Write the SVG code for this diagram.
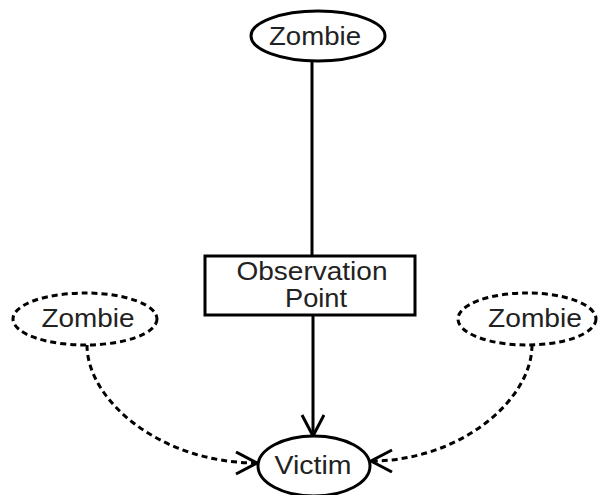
<svg xmlns="http://www.w3.org/2000/svg" width="598" height="495" viewBox="0 0 598 495">
<style>
.n{fill:#fff;stroke:#000;stroke-width:3}
.d{stroke-dasharray:6 4}
.t{font-family:"Liberation Sans",Arial,sans-serif;font-size:25px;fill:#222;text-anchor:middle}
.e{fill:none;stroke:#000;stroke-width:3}
</style>
<defs>
<marker id="ah" markerUnits="userSpaceOnUse" markerWidth="26" markerHeight="26" refX="22" refY="12" orient="auto" viewBox="0 0 26 26">
<polyline points="1,1 22,12 1,23" fill="none" stroke="#000" stroke-width="3"/>
</marker>
</defs>
<g id="connectors">
<line class="e" x1="312" y1="62" x2="312" y2="256"/>
<line class="e" x1="313" y1="315" x2="313" y2="436" marker-end="url(#ah)"/>
<path class="e d" d="M87 345 C87 400 160 463 257 463" marker-end="url(#ah)"/>
<path class="e d" d="M532 345 C532 400 460 461 371 461" marker-end="url(#ah)"/>
</g>
<g id="zombie-top">
<ellipse class="n" cx="318" cy="36" rx="67" ry="25"/>
<text class="t" x="315" y="45" textLength="92" lengthAdjust="spacingAndGlyphs">Zombie</text>
</g>
<g id="observation-point">
<rect class="n" x="205" y="256" width="210" height="59"/>
<text class="t" x="312" y="280" font-size="23" textLength="151" lengthAdjust="spacingAndGlyphs">Observation</text>
<text class="t" x="316" y="307" font-size="23" textLength="62" lengthAdjust="spacingAndGlyphs">Point</text>
</g>
<g id="zombie-left">
<ellipse class="n d" cx="85" cy="319" rx="72" ry="26"/>
<text class="t" x="88" y="327" textLength="93" lengthAdjust="spacingAndGlyphs">Zombie</text>
</g>
<g id="zombie-right">
<ellipse class="n d" cx="527" cy="319" rx="69" ry="26"/>
<text class="t" x="535" y="327" textLength="94" lengthAdjust="spacingAndGlyphs">Zombie</text>
</g>
<g id="victim">
<ellipse class="n" cx="314" cy="466" rx="56" ry="30"/>
<text class="t" x="313" y="474" font-size="27" textLength="77" lengthAdjust="spacingAndGlyphs">Victim</text>
</g>
</svg>
